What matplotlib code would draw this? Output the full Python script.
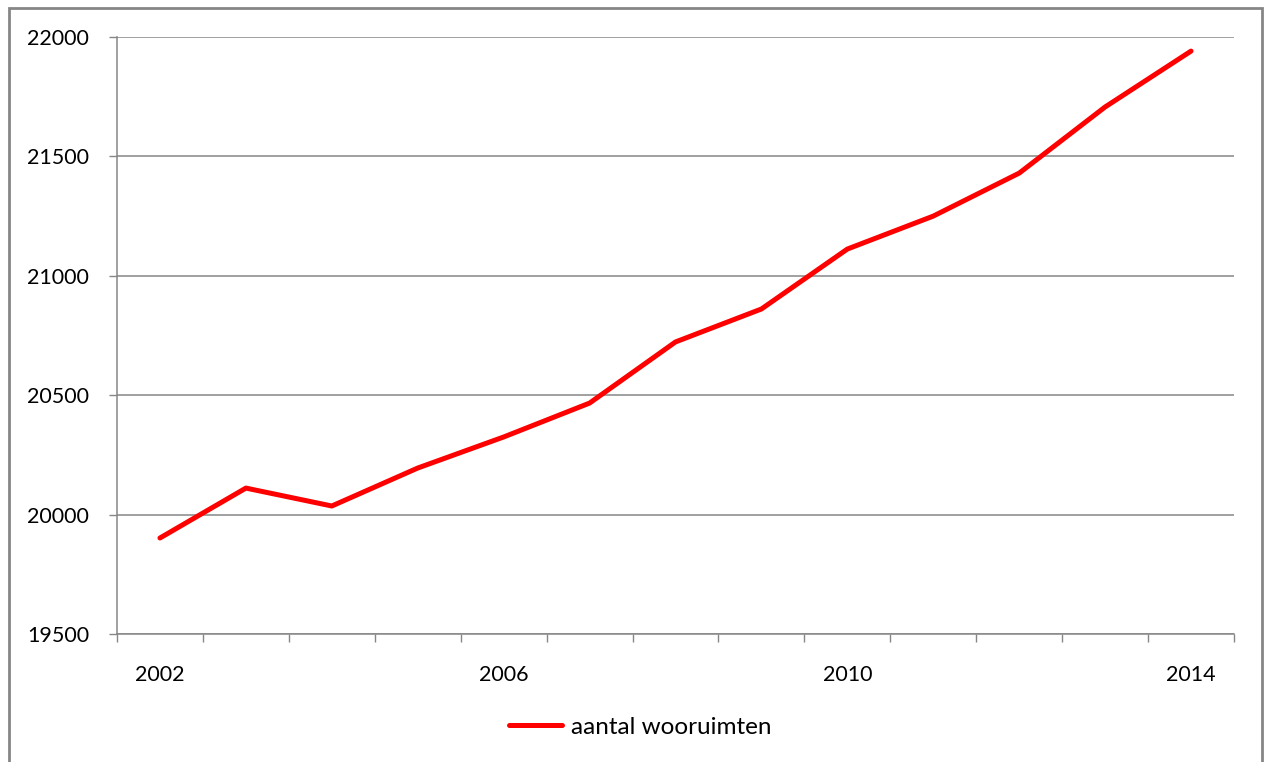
import numpy as np
import matplotlib.pyplot as plt
from matplotlib.patches import Rectangle

# Number of living rooms per year
years = [2002, 2003, 2004, 2005, 2006, 2007, 2008, 2009, 2010, 2011, 2012, 2013, 2014]
wooruimten = [19902, 20111, 20036, 20195, 20325, 20467, 20723, 20861, 21112, 21250, 21430, 21707, 21941]
label_years = [2002, 2006, 2010, 2014]
y_ticks = [19500, 20000, 20500, 21000, 21500, 22000]

plt.rcParams['font.family'] = ['Lato', 'DejaVu Sans']
grey = '#868686'

fig = plt.figure(figsize=(12.64, 7.62), dpi=100)
ax = fig.add_axes([117 / 1264, 1 - 634 / 762, (1234 - 117) / 1264, (634 - 37) / 762])

x = np.arange(len(years))
line, = ax.plot(x, wooruimten, color='#ff0000', linewidth=3.6,
                solid_capstyle='round', solid_joinstyle='round', label='aantal wooruimten')

ax.set_xlim(-0.5, len(years) - 0.5)
ax.set_ylim(y_ticks[0], y_ticks[-1])
ax.set_yticks(y_ticks)
ax.set_yticklabels([str(v) for v in y_ticks])

# year labels at category centres, tick marks between categories
ax.set_xticks([years.index(y) for y in label_years])
ax.set_xticklabels([str(y) for y in label_years])
ax.set_xticks(np.arange(-0.5, len(years)), minor=True)
ax.tick_params(axis='x', which='major', length=0, pad=22, labelsize=15.5, colors='black')
ax.tick_params(axis='x', which='minor', length=6, width=1, color=grey, direction='out')
ax.tick_params(axis='y', length=6, width=1, color=grey, pad=14, labelsize=15.5)

ax.grid(axis='y', color=grey, linewidth=1.1)
ax.set_axisbelow(True)
for side in ['top', 'right']:
    ax.spines[side].set_visible(False)
for side in ['left', 'bottom']:
    ax.spines[side].set_color(grey)
    ax.spines[side].set_linewidth(1.1)

fig.legend(handles=[line], loc='center', bbox_to_anchor=(640 / 1264, 1 - 727 / 762),
           frameon=False, fontsize=17.5, handlelength=2.2, handletextpad=0.35)

# outer chart border
fig.patches.append(Rectangle((9 / 1264, -0.05), (1262 - 9) / 1264, 1.05 - 8 / 762,
                             transform=fig.transFigure, fill=False,
                             edgecolor=grey, linewidth=2))

fig.savefig('out.png', dpi=100)
